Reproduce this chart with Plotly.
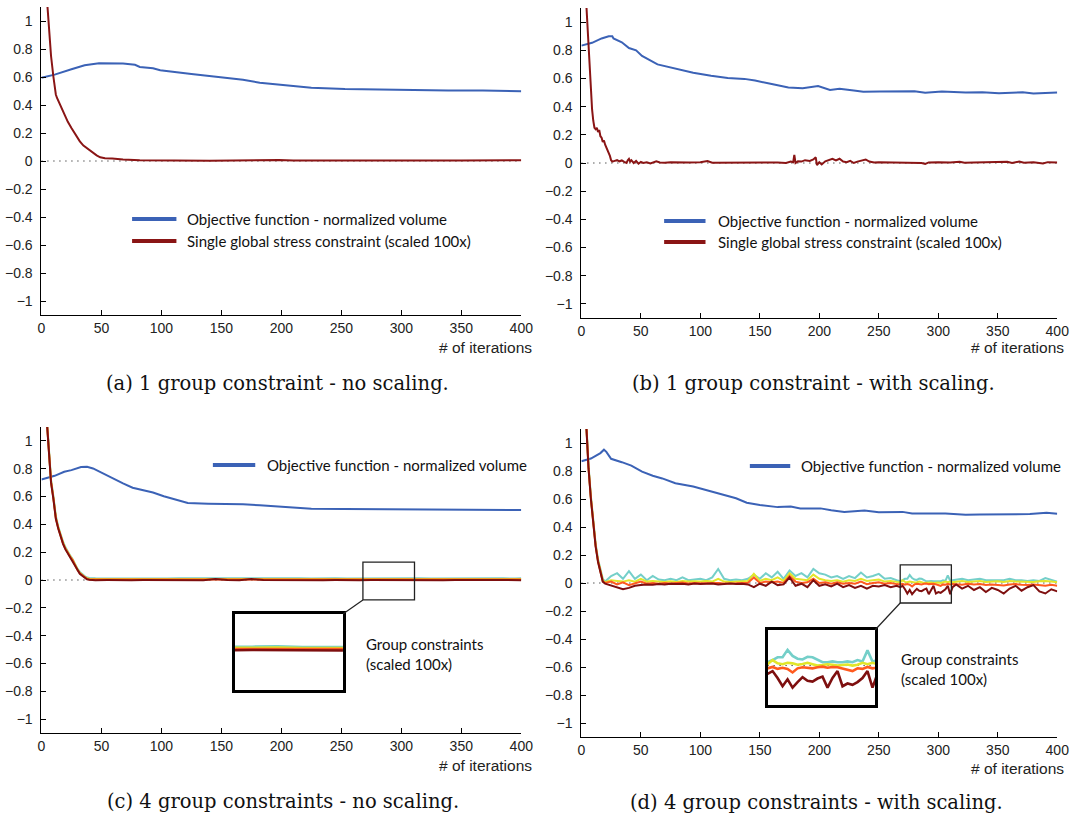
import plotly.graph_objects as go

W, H = 1086, 815

# ---------------- data ----------------
ITER_TICKS = [0, 50, 100, 150, 200, 250, 300, 350, 400]
VAL_TICKS = [-1, -0.8, -0.6, -0.4, -0.2, 0, 0.2, 0.4, 0.6, 0.8, 1]

# (a) 1 group constraint - no scaling
A_OBJ_X = [0, 11, 25, 36, 48, 68, 78, 82, 93, 99, 125, 153, 168, 182, 196, 211, 225, 253, 282, 311, 339, 368, 400]
A_OBJ_Y = [0.595, 0.617, 0.655, 0.684, 0.699, 0.696, 0.687, 0.672, 0.663, 0.648, 0.622, 0.595, 0.581, 0.559,
           0.547, 0.531, 0.523, 0.514, 0.509, 0.507, 0.504, 0.504, 0.499]
A_CON_X = [0, 3, 5, 7, 8, 10, 11, 12, 13, 15, 17, 19, 22, 25, 27, 29, 32, 35, 38, 42, 46, 49, 53, 59, 68, 82,
           100, 120, 140, 160, 180, 198, 210, 230, 250, 270, 290, 310, 330, 350, 370, 390, 400]
A_CON_Y = [1.7, 1.35, 1.08, 0.85, 0.75, 0.6, 0.52, 0.475, 0.45, 0.41, 0.37, 0.33, 0.28, 0.235, 0.205, 0.175,
           0.14, 0.11, 0.09, 0.067, 0.04, 0.026, 0.02, 0.017, 0.01, 0.005, 0.003, 0.004, 0.002, 0.003, 0.004,
           0.008, 0.003, 0.004, 0.003, 0.004, 0.005, 0.003, 0.004, 0.003, 0.004, 0.005, 0.005]

# (b) 1 group constraint - with scaling
B_OBJ_X = [0, 9, 17, 23, 26, 27, 34, 40, 46, 51, 64, 80, 94, 109, 123, 137, 146, 160, 174, 186, 194, 199, 209,
           217, 229, 237, 251, 280, 289, 303, 323, 337, 351, 371, 380, 400]
B_OBJ_Y = [0.833, 0.853, 0.884, 0.9, 0.9, 0.884, 0.857, 0.816, 0.8, 0.76, 0.7, 0.67, 0.64, 0.62, 0.604, 0.597,
           0.585, 0.56, 0.536, 0.531, 0.539, 0.546, 0.519, 0.527, 0.514, 0.505, 0.507, 0.51, 0.498, 0.507, 0.5,
           0.502, 0.495, 0.502, 0.493, 0.5]
B_CON_X = [0, 2, 4, 5, 6, 7, 8, 9, 10, 11, 12, 13, 14, 15, 16, 17, 18, 19, 20, 21, 22, 23, 24, 25, 26, 28, 30,
           32, 34, 36, 38, 39, 40, 41, 42, 44, 46, 48, 50, 52, 55, 58, 60, 63, 66, 70, 75, 80, 90, 100, 106, 110,
           120, 130, 137, 145, 155, 165, 172, 176, 178, 179, 180, 182, 185, 188, 192, 195, 197, 198, 200, 202,
           205, 208, 211, 214, 217, 220, 223, 226, 229, 232, 236, 239, 242, 246, 250, 260, 270, 280, 286, 289,
           292, 300, 310, 318, 322, 330, 340, 350, 358, 362, 368, 372, 380, 388, 392, 400]
B_CON_Y = [1.9, 1.6, 1.15, 0.98, 0.8, 0.62, 0.48, 0.38, 0.3, 0.25, 0.24, 0.25, 0.22, 0.235, 0.19, 0.18, 0.15,
           0.16, 0.13, 0.11, 0.1, 0.08, 0.05, 0.02, 0.01, 0.015, 0.02, 0.012, 0.018, 0.008, 0.0, 0.02, 0.03, 0.01,
           0.02, 0.0, 0.015, -0.005, 0.008, 0.0, 0.005, -0.003, 0.005, 0.012, 0.004, 0.002, 0.005, 0.003, 0.004,
           0.006, 0.014, 0.002, 0.003, 0.004, 0.002, 0.005, 0.003, 0.004, 0.0, 0.01, 0.005, 0.058, 0.0, 0.012,
           0.01, 0.02, 0.015, 0.025, 0.04, -0.015, 0.005, -0.01, 0.012, 0.02, 0.03, 0.018, 0.03, 0.01, 0.005,
           0.015, 0.0, 0.01, 0.02, 0.025, 0.01, 0.003, 0.005, 0.004, 0.003, 0.005, 0.0, -0.006, 0.004, 0.006,
           0.003, 0.008, 0.002, 0.004, 0.006, 0.003, 0.008, 0.0, 0.01, 0.002, 0.005, -0.004, 0.006, 0.004]

# (c) 4 group constraints - no scaling
C_OBJ_X = [0, 11, 19, 25, 33, 38, 43, 51, 59, 68, 76, 88, 93, 102, 111, 122, 139, 168, 182, 191, 205, 225, 253,
           311, 400]
C_OBJ_Y = [0.723, 0.749, 0.778, 0.79, 0.812, 0.814, 0.802, 0.766, 0.735, 0.694, 0.663, 0.639, 0.629, 0.602,
           0.58, 0.554, 0.549, 0.545, 0.537, 0.532, 0.52, 0.513, 0.511, 0.508, 0.503]
C_X = [0, 3, 5, 7, 8, 10, 12, 14, 16, 18, 20, 22, 24, 26, 28, 30, 32, 34, 36, 38, 40,
       45, 55, 65, 75, 85, 95, 105, 115, 125, 135, 145, 155, 165, 175, 185, 195, 205, 215, 225, 235, 245,
       255, 265, 275, 285, 295, 305, 315, 325, 335, 345, 355, 365, 375, 385, 395, 400]
C_G1 = [1.72, 1.37, 1.1, 0.84, 0.72, 0.6, 0.46, 0.385, 0.325, 0.275, 0.235, 0.2, 0.175, 0.15, 0.11, 0.082,
        0.058, 0.042, 0.028, 0.018, 0.014,
        0.012, 0.011, 0.013, 0.012, 0.01, 0.012, 0.011, 0.013, 0.012, 0.011, 0.014, 0.012, 0.011, 0.012, 0.013,
        0.011, 0.012, 0.012, 0.011, 0.013, 0.012, 0.011, 0.012, 0.012, 0.013, 0.011, 0.012, 0.012, 0.011, 0.012,
        0.013, 0.012, 0.011, 0.012, 0.012, 0.011, 0.012]
C_G2 = [1.71, 1.36, 1.09, 0.83, 0.71, 0.59, 0.45, 0.378, 0.318, 0.268, 0.228, 0.196, 0.17, 0.146, 0.106, 0.077,
        0.052, 0.036, 0.022, 0.012, 0.009,
        0.008, 0.007, 0.009, 0.008, 0.007, 0.008, 0.008, 0.009, 0.007, 0.008, 0.01, 0.008, 0.007, 0.009, 0.008,
        0.007, 0.008, 0.008, 0.007, 0.009, 0.008, 0.007, 0.008, 0.008, 0.009, 0.007, 0.008, 0.008, 0.007, 0.008,
        0.009, 0.008, 0.007, 0.008, 0.008, 0.007, 0.008]
C_G3 = [1.705, 1.355, 1.085, 0.825, 0.705, 0.585, 0.445, 0.374, 0.314, 0.264, 0.224, 0.193, 0.167, 0.143, 0.103,
        0.073, 0.048, 0.033, 0.018, 0.008, 0.004,
        0.004, 0.003, 0.004, 0.003, 0.004, 0.003, 0.004, 0.004, 0.003, 0.004, 0.006, 0.004, 0.003, 0.005, 0.004,
        0.003, 0.004, 0.003, 0.004, 0.004, 0.003, 0.004, 0.004, 0.003, 0.004, 0.003, 0.004, 0.003, 0.004, 0.003,
        0.004, 0.004, 0.003, 0.004, 0.003, 0.004, 0.003]
C_G4 = [1.7, 1.35, 1.08, 0.82, 0.7, 0.58, 0.44, 0.37, 0.31, 0.26, 0.22, 0.19, 0.165, 0.14, 0.1, 0.07, 0.045,
        0.03, 0.015, 0.005, 0.002,
        -0.001, 0.0, -0.002, -0.001, 0.0, -0.001, 0.001, -0.001, 0.0, -0.001, 0.008, 0.0, -0.001, 0.007, 0.0,
        -0.001, 0.0, -0.001, 0.0, -0.001, 0.0, -0.002, -0.001, 0.0, -0.001, 0.0, -0.001, -0.002, 0.0, -0.001,
        0.0, -0.001, -0.002, 0.0, -0.001, -0.001, -0.001]

# (d) 4 group constraints - with scaling
D_OBJ_X = [0, 8, 16, 19, 21, 25, 34, 42, 51, 60, 68, 79, 94, 108, 119, 130, 139, 150, 165, 176, 184, 201, 210,
           221, 238, 250, 270, 278, 306, 323, 335, 363, 377, 391, 400]
D_OBJ_Y = [0.87, 0.889, 0.928, 0.952, 0.937, 0.887, 0.863, 0.839, 0.795, 0.766, 0.747, 0.713, 0.689, 0.658,
           0.634, 0.605, 0.573, 0.557, 0.542, 0.547, 0.533, 0.533, 0.52, 0.508, 0.518, 0.506, 0.508, 0.496,
           0.496, 0.487, 0.489, 0.494, 0.492, 0.501, 0.494]
D_X = (list(range(0, 20, 2)) + list(range(20, 266, 5)) + list(range(268, 313, 2)) + list(range(315, 401, 5)))
D_G1 = ([1.82, 1.47, 1.17, 0.84, 0.62, 0.42, 0.28, 0.17, 0.09, 0.03] +
        [0.01, 0.05, 0.07, 0.03, 0.085, 0.03, 0.06, 0.02, 0.05, 0.025,
         0.02, 0.03, 0.02, 0.04, 0.02, 0.025, 0.03, 0.02, 0.04, 0.1,
         0.03, 0.02, 0.025, 0.02, 0.03, 0.06, 0.03, 0.07, 0.04, 0.08,
         0.03, 0.09, 0.05, 0.07, 0.04, 0.1, 0.07, 0.06, 0.04, 0.05,
         0.03, 0.05, 0.035, 0.075, 0.04, 0.05, 0.065, 0.03, 0.035, 0.02] +
        [0.012, 0.02, 0.03, 0.03, 0.057, 0.035, 0.025, 0.022, 0.032, 0.03, 0.02, 0.012, 0.012, 0.015, 0.012,
         0.012, 0.015, 0.012, 0.02, 0.015, 0.055, 0.015, 0.02] +
        [0.025, 0.03, 0.02, 0.025, 0.03, 0.02, 0.02, 0.025, 0.02, 0.03, 0.02, 0.02, 0.015, 0.02, 0.015, 0.035,
         0.02, 0.01])
D_G2 = ([1.81, 1.46, 1.16, 0.83, 0.61, 0.41, 0.27, 0.16, 0.08, 0.02] +
        [0.005, 0.02, 0.015, 0.01, 0.02, 0.01, 0.03, 0.01, 0.015, 0.01,
         0.008, 0.012, 0.008, 0.015, 0.01, 0.012, 0.01, 0.015, 0.01, 0.03,
         0.01, 0.008, 0.01, 0.008, 0.015, 0.065, 0.015, 0.03, 0.02, 0.04,
         0.015, 0.07, 0.03, 0.025, 0.02, 0.06, 0.03, 0.02, 0.015, 0.02,
         0.01, 0.02, 0.015, 0.03, 0.015, 0.02, 0.025, 0.01, 0.015, 0.008] +
        [0.005, 0.02, 0.008, 0.005, 0.01, 0.008, 0.003, 0.006, 0.01, 0.005, 0.0, 0.002, 0.005, 0.003, 0.0,
         0.002, 0.004, 0.0, 0.003, 0.01, 0.005, 0.01, 0.005] +
        [0.01, 0.015, 0.008, 0.01, 0.015, 0.008, 0.01, 0.012, 0.008, 0.015, 0.01, 0.008, 0.01, 0.008, 0.012,
         0.015, 0.01, 0.005])
D_G3 = ([1.805, 1.455, 1.155, 0.825, 0.605, 0.405, 0.265, 0.155, 0.075, 0.012] +
        [0.0, 0.01, -0.01, 0.005, -0.015, 0.0, 0.01, -0.005, 0.0, -0.005,
         0.0, -0.003, 0.0, 0.003, -0.004, 0.0, -0.002, 0.0, 0.002, 0.0,
         -0.003, 0.0, -0.002, 0.0, 0.002, 0.04, 0.0, 0.01, 0.005, 0.01,
         0.0, 0.05, 0.01, 0.0, 0.005, 0.03, 0.0, 0.005, -0.005, 0.005,
         -0.005, 0.0, -0.005, 0.01, -0.008, 0.0, 0.005, -0.005, 0.0, -0.008] +
        [-0.01, -0.005, -0.012, -0.008, -0.012, -0.025, -0.01, -0.006, -0.008, -0.01, -0.006, -0.004, -0.008,
         -0.005, -0.006, -0.01, -0.015, -0.02, -0.01, -0.012, -0.005, -0.01, -0.008] +
        [-0.008, -0.012, -0.005, -0.01, -0.008, -0.015, -0.01, -0.012, -0.018, -0.01, -0.008, -0.012, -0.015,
         -0.01, -0.015, -0.02, -0.012, -0.02])
D_G4 = ([1.8, 1.45, 1.15, 0.82, 0.6, 0.4, 0.26, 0.15, 0.07, 0.01] +
        [-0.005, -0.02, -0.03, -0.045, -0.035, -0.02, -0.015, -0.01, -0.012, -0.008,
         -0.01, -0.005, -0.008, -0.005, -0.01, -0.004, -0.008, -0.005, -0.003, -0.01,
         -0.006, -0.004, -0.008, -0.005, -0.01, -0.03, -0.005, -0.02, 0.01, -0.015,
         -0.01, 0.04, -0.02, -0.005, -0.03, 0.02, -0.02, -0.01, -0.025, -0.005,
         -0.03, -0.015, -0.035, -0.02, -0.04, -0.02, -0.025, -0.015, -0.03, -0.02] +
        [-0.03, -0.02, -0.045, -0.075, -0.05, -0.08, -0.06, -0.042, -0.055, -0.058, -0.047, -0.04, -0.08,
         -0.045, -0.02, -0.075, -0.065, -0.07, -0.06, -0.045, -0.02, -0.08, -0.03] +
        [-0.01, -0.04, -0.02, -0.05, -0.03, -0.065, -0.035, -0.05, -0.075, -0.04, -0.02, -0.055, -0.03, -0.015,
         -0.06, -0.075, -0.045, -0.06])

# zoomed window shown in the insets (iterations, value)
INSET_X = [268, 311]
INSET_Y = [-0.143, 0.129]

OBJ_NAME = "Objective function - normalized volume"
CON_NAME = "Single global stress constraint (scaled 100x)"
GROUP_TXT = "Group constraints<br>(scaled 100x)"
CAPTIONS = ["(a) 1 group constraint - no scaling.", "(b) 1 group constraint - with scaling.",
            "(c) 4 group constraints - no scaling.", "(d) 4 group constraints - with scaling."]
XLABEL = "# of iterations"

# ---------------- style ----------------
BLUE = "#3b62b6"
DRED = "#8a1515"
G_COLORS = ["#74cfc9", "#e2e62a", "#ff5a1f", "#7e0f0f"]
TICK_FONT = dict(family="Liberation Sans, Arial", size=14, color="#222222")
TXT_FONT = dict(family="Lato, Open Sans, sans-serif", size=15, color="#111111")
CAP_FONT = dict(family="DejaVu Serif, serif", size=19.5, color="#111111")


def px(x):
    return x / W


def py(y):
    return 1 - y / H


# axes pixel boxes: (left, right, top, bottom)
BOX = {
    1: (38, 525, 7, 315),
    2: (586, 1069, 8, 318),
    3: (38, 525, 427, 733),
    4: (586, 1069, 429, 737),
    5: (234, 344, 614, 690),
    6: (775, 884, 630, 705),
}

fig = go.Figure()


def add(x, y, n, color, width=2.0):
    sfx = "" if n == 1 else str(n)
    fig.add_trace(go.Scatter(x=x, y=y, mode="lines", line=dict(color=color, width=width),
                             xaxis="x" + sfx, yaxis="y" + sfx, showlegend=False, hoverinfo="skip"))


add(A_OBJ_X, A_OBJ_Y, 1, BLUE)
add(A_CON_X, A_CON_Y, 1, DRED)
add(B_OBJ_X, B_OBJ_Y, 2, BLUE)
add(B_CON_X, B_CON_Y, 2, DRED)
add(C_OBJ_X, C_OBJ_Y, 3, BLUE)
for ys, c in zip([C_G1, C_G2, C_G3, C_G4], G_COLORS):
    add(C_X, ys, 3, c)
add(D_OBJ_X, D_OBJ_Y, 4, BLUE)
for ys, c in zip([D_G1, D_G2, D_G3, D_G4], G_COLORS):
    add(D_X, ys, 4, c)
# insets
for ys, c in zip([C_G1, C_G2, C_G3, C_G4], G_COLORS):
    add(C_X, ys, 5, c, 2.6)
for ys, c in zip([D_G1, D_G2, D_G3, D_G4], G_COLORS):
    add(D_X, ys, 6, c, 2.6)

layout = dict(width=W, height=H, margin=dict(l=0, r=0, t=0, b=0),
              paper_bgcolor="white", plot_bgcolor="white", showlegend=False)

for n in range(1, 5):
    l, r, t, b = BOX[n]
    sfx = "" if n == 1 else str(n)
    layout["xaxis" + sfx] = dict(domain=[px(l), px(r)], anchor="y" + sfx, range=[0, 400],
                                 tickvals=ITER_TICKS, showline=True, linecolor="black", linewidth=1,
                                 ticks="inside", ticklen=5, tickcolor="black", showgrid=False,
                                 zeroline=False, tickfont=TICK_FONT, fixedrange=True)
    layout["yaxis" + sfx] = dict(domain=[py(b), py(t)], anchor="x" + sfx, range=[-1.1, 1.1],
                                 tickvals=VAL_TICKS, showline=True, linecolor="black", linewidth=1,
                                 ticks="inside", ticklen=5, tickcolor="black", showgrid=False,
                                 zeroline=False, tickfont=TICK_FONT, ticklabelstandoff=5, fixedrange=True)
for n in (5, 6):
    l, r, t, b = BOX[n]
    layout["xaxis%d" % n] = dict(domain=[px(l), px(r)], anchor="y%d" % n, range=INSET_X, showline=True,
                                 mirror=True, linecolor="black", linewidth=2.5, showticklabels=False,
                                 ticks="", showgrid=False, zeroline=False, fixedrange=True)
    layout["yaxis%d" % n] = dict(domain=[py(b), py(t)], anchor="x%d" % n, range=INSET_Y, showline=True,
                                 mirror=True, linecolor="black", linewidth=2.5, showticklabels=False,
                                 ticks="", showgrid=False, zeroline=False, fixedrange=True)
fig.update_layout(**layout)

shapes = []
# dotted zero lines
for n in range(1, 7):
    sfx = "" if n == 1 else str(n)
    xr = [0, 400] if n <= 4 else INSET_X
    shapes.append(dict(type="line", xref="x" + sfx, yref="y" + sfx, x0=xr[0], x1=xr[1], y0=0, y1=0,
                       line=dict(color="black", width=1, dash="1px,5px"), layer="below"))


def to_paper(n, xv, yv):
    l, r, t, b = BOX[n]
    rx = [0, 400] if n <= 4 else INSET_X
    ry = [-1.1, 1.1] if n <= 4 else INSET_Y
    xp = px(l) + (xv - rx[0]) / (rx[1] - rx[0]) * (px(r) - px(l))
    yp = py(b) + (yv - ry[0]) / (ry[1] - ry[0]) * (py(t) - py(b))
    return xp, yp


# zoom rectangles and connectors
for main, inset in ((3, 5), (4, 6)):
    shapes.append(dict(type="rect", xref="x%d" % main, yref="y%d" % main, x0=INSET_X[0], x1=INSET_X[1],
                       y0=INSET_Y[0], y1=INSET_Y[1], line=dict(color="#222222", width=1.3)))
    x0, y0 = to_paper(main, INSET_X[0], INSET_Y[0])
    x1, y1 = to_paper(inset, INSET_X[1], INSET_Y[1])
    shapes.append(dict(type="line", xref="paper", yref="paper", x0=x0, y0=y0, x1=x1, y1=y1,
                       line=dict(color="#222222", width=1.2)))

annotations = []
# legends (line sample + label)
LEG = [  # (x0, x1, y, text x, color, text)
    (130, 175, 219, 184, BLUE, OBJ_NAME),
    (130, 175, 241, 184, DRED, CON_NAME),
    (670, 712, 221, 723, BLUE, OBJ_NAME),
    (670, 712, 242, 723, DRED, CON_NAME),
    (212, 255, 465, 265, BLUE, OBJ_NAME),
    (757, 798, 466, 807, BLUE, OBJ_NAME),
]
for x0, x1, yy, tx, col, txt in LEG:
    shapes.append(dict(type="line", xref="paper", yref="paper", x0=px(x0), x1=px(x1), y0=py(yy), y1=py(yy),
                       line=dict(color=col, width=4)))
    annotations.append(dict(xref="paper", yref="paper", x=px(tx), y=py(yy), text=txt, showarrow=False,
                            xanchor="left", yanchor="middle", font=TXT_FONT))

annotations.append(dict(xref="paper", yref="paper", x=px(365), y=py(654), text=GROUP_TXT, showarrow=False,
                        xanchor="left", yanchor="middle", align="left", font=TXT_FONT))
annotations.append(dict(xref="paper", yref="paper", x=px(908), y=py(669), text=GROUP_TXT, showarrow=False,
                        xanchor="left", yanchor="middle", align="left", font=TXT_FONT))

# axis labels
for xr, yy in ((538, 347), (1078, 347), (538, 765), (1078, 768)):
    annotations.append(dict(xref="paper", yref="paper", x=px(xr), y=py(yy), text=XLABEL, showarrow=False,
                            xanchor="right", yanchor="middle",
                            font=dict(family="Liberation Sans, Arial", size=15.5, color="#222222")))
# captions
for cap, (cx, cy) in zip(CAPTIONS, ((278, 384), (822, 384), (283, 801), (825, 802))):
    annotations.append(dict(xref="paper", yref="paper", x=px(cx), y=py(cy), text=cap, showarrow=False,
                            xanchor="center", yanchor="middle", font=CAP_FONT))

fig.update_layout(shapes=shapes, annotations=annotations)

fig.write_html("out.html", config={"displayModeBar": False},
               post_script="document.body.style.margin='0';document.body.style.overflow='hidden';")
